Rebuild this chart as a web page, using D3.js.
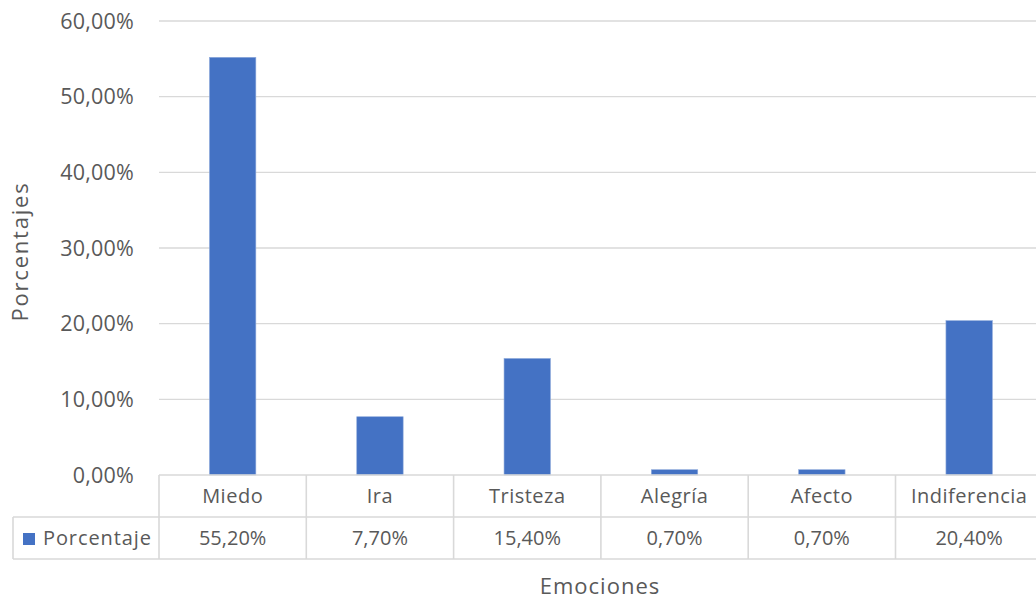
<!DOCTYPE html>
<html><head><meta charset="utf-8">
<script src="https://cdn.jsdelivr.net/npm/d3@7"></script>
<style>body{margin:0;background:#fff}svg{display:block}text{font-family:"Open Sans","Noto Sans",sans-serif;fill:#595959}</style>
</head><body><svg id="c" width="1036" height="600"></svg>
<script>
const categories = ["Miedo","Ira","Tristeza","Alegría","Afecto","Indiferencia"];
const values = [0.552,0.077,0.154,0.007,0.007,0.204];
const valueLabels = ["55,20%","7,70%","15,40%","0,70%","0,70%","20,40%"];
const yTicks = [0,0.1,0.2,0.3,0.4,0.5,0.6];
const seriesName = "Porcentaje";

const svg = d3.select("#c");
const left = 159, bandW = 147.3;
const x = d3.scaleBand().domain(categories).range([left, left + bandW*categories.length]).padding(0);
const y = d3.scaleLinear().domain([0,0.6]).range([475,21]);
const fmt = v => d3.format(".2f")(v*100).replace(".", ",") + "%";
const grid = "#d9d9d9";

// gridlines
svg.append("g").selectAll("line").data(yTicks.filter(t=>t>0)).join("line")
  .attr("x1",left).attr("x2",1036).attr("y1",d=>y(d)).attr("y2",d=>y(d))
  .attr("stroke",grid).attr("stroke-width",1.3);

// y tick labels
svg.append("g").selectAll("text").data(yTicks).join("text")
  .attr("x",134).attr("y",d=>y(d)).attr("dy","0.35em").attr("text-anchor","end")
  .attr("font-size",21.5).attr("letter-spacing",0.2).text(fmt);

// bars
const bw = x.bandwidth()*0.315;
svg.append("g").selectAll("rect").data(values).join("rect")
  .attr("x",(d,i)=>x(categories[i])+x.bandwidth()/2-bw/2)
  .attr("width",bw)
  .attr("y",d=>y(d)).attr("height",d=>y(0)-y(d))
  .attr("fill","#4472c4").attr("stroke","#8eaadb").attr("stroke-width",0.6);

// table
const rowTop = 475, rowMid = 517, rowBot = 559, legLeft = 13;
const tg = svg.append("g").attr("stroke",grid).attr("stroke-width",1.6);
tg.append("line").attr("x1",left).attr("x2",1036).attr("y1",rowTop).attr("y2",rowTop);
tg.append("line").attr("x1",legLeft).attr("x2",1036).attr("y1",rowMid).attr("y2",rowMid);
tg.append("line").attr("x1",legLeft).attr("x2",1036).attr("y1",rowBot).attr("y2",rowBot);
tg.append("line").attr("x1",legLeft).attr("x2",legLeft).attr("y1",rowMid).attr("y2",rowBot);
tg.selectAll("line.v").data(categories).join("line").attr("class","v")
  .attr("x1",d=>x(d)).attr("x2",d=>x(d)).attr("y1",rowTop).attr("y2",rowBot);

svg.append("g").selectAll("text").data(categories).join("text")
  .attr("x",d=>x(d)+x.bandwidth()/2).attr("y",496).attr("dy","0.35em")
  .attr("text-anchor","middle").attr("font-size",20).attr("letter-spacing",0.5).text(d=>d);
svg.append("g").selectAll("text").data(valueLabels).join("text")
  .attr("x",(d,i)=>x(categories[i])+x.bandwidth()/2).attr("y",538).attr("dy","0.35em")
  .attr("text-anchor","middle").attr("font-size",20).text(d=>d);

// legend key
svg.append("rect").attr("x",23).attr("y",533).attr("width",12).attr("height",12).attr("fill","#4472c4");
svg.append("text").attr("x",43).attr("y",538).attr("dy","0.35em").attr("font-size",20).attr("letter-spacing",0.9).text(seriesName);

// axis titles
svg.append("text").attr("transform","translate(20,251.5) rotate(-90)").attr("dy","0.35em")
  .attr("text-anchor","middle").attr("font-size",22).attr("letter-spacing",1.8).text("Porcentajes");
svg.append("text").attr("x",600).attr("y",586).attr("dy","0.35em")
  .attr("text-anchor","middle").attr("font-size",22).attr("letter-spacing",1).text("Emociones");
</script></body></html>
